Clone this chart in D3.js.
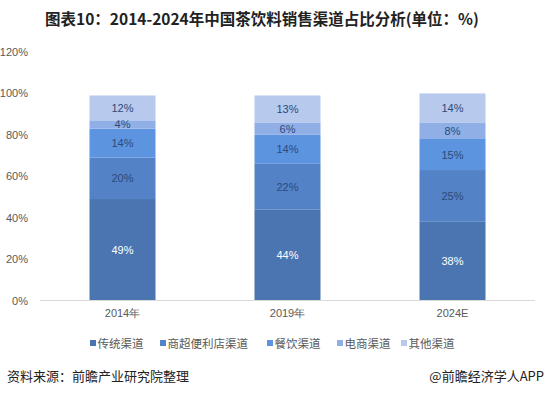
<!DOCTYPE html>
<html><head><meta charset="utf-8">
<script src="https://cdn.jsdelivr.net/npm/d3@7"></script>
<style>body{margin:0;background:#fff;}svg{display:block;font-family:"Noto Sans CJK SC","Liberation Sans",sans-serif;}</style>
</head><body>
<svg id="c" width="546" height="396"></svg>
<script>
const categories = ["2014年", "2019年", "2024E"];
const seriesNames = ["传统渠道", "商超便利店渠道", "餐饮渠道", "电商渠道", "其他渠道"];
const traditional = [49, 44, 38];
const supermarket = [20, 22, 25];
const catering = [14, 14, 15];
const ecommerce = [4, 6, 8];
const others = [12, 13, 14];
const yTicks = [0, 20, 40, 60, 80, 100, 120];
const colors = ["#4a75b1", "#5482c6", "#5c94e0", "#8fafe6", "#b8c9ee"];
const labelColors = ["#ffffff", "#2c4a7a", "#2c4a7a", "#2c4a7a", "#2c4a7a"];

const series = [traditional, supermarket, catering, ecommerce, others];
const svg = d3.select("#c");
const x = d3.scaleBand().domain(categories).range([40, 535]).paddingInner(0.6).paddingOuter(0.3);
const y = d3.scaleLinear().domain([0, 120]).range([300.5, 52]);

// title
svg.append("text").attr("x", 262).attr("y", 25).attr("text-anchor", "middle")
  .attr("font-size", 15.5).attr("font-weight", "bold").attr("fill", "#222")
  .text("图表10：2014-2024年中国茶饮料销售渠道占比分析(单位：%)");

// y axis labels
const yAxis = d3.axisLeft(y).tickValues(yTicks).tickFormat(d => d + "%").tickSize(0).tickPadding(6);
const ga = svg.append("g").attr("transform", "translate(34,0)").call(yAxis);
ga.select(".domain").remove();
ga.selectAll("text").attr("font-size", 11).attr("fill", "#595959").attr("font-family", "Liberation Sans, sans-serif");

// stacks
const table = categories.map((c, i) => {
  const o = {cat: c};
  seriesNames.forEach((s, j) => o[s] = series[j][i]);
  return o;
});
const stack = d3.stack().keys(seriesNames)(table);
stack.forEach((layer, j) => {
  const g = svg.append("g");
  g.selectAll("rect").data(layer).join("rect")
    .attr("x", d => x(d.data.cat)).attr("width", x.bandwidth())
    .attr("y", d => y(d[1])).attr("height", d => y(d[0]) - y(d[1]))
    .attr("fill", colors[j]);
  g.selectAll("text").data(layer).join("text")
    .attr("x", d => x(d.data.cat) + x.bandwidth() / 2)
    .attr("y", d => (y(d[0]) + y(d[1])) / 2 + 4)
    .attr("text-anchor", "middle").attr("font-size", 11)
    .attr("font-family", "Liberation Sans, sans-serif")
    .attr("fill", labelColors[j])
    .text(d => (d[1] - d[0]) + "%");
});

// x axis
const xAxis = d3.axisBottom(x).tickSize(0).tickPadding(9);
const gx = svg.append("g").attr("transform", "translate(0,300.5)").call(xAxis);
gx.select(".domain").attr("stroke", "#d9d9d9").attr("d", "M40,0H535");
gx.selectAll("text").attr("font-size", 11).attr("fill", "#595959");

// legend
const legendX = [90, 160, 267, 337, 401];
const lg = svg.append("g");
seriesNames.forEach((s, j) => {
  lg.append("rect").attr("x", legendX[j]).attr("y", 340).attr("width", 6).attr("height", 6).attr("fill", colors[j]);
  lg.append("text").attr("x", legendX[j] + 7.5).attr("y", 347.5).attr("font-size", 11.5).attr("fill", "#595959").text(s);
});

// footer
svg.append("text").attr("x", 7).attr("y", 381).attr("font-size", 13).attr("fill", "#222").text("资料来源：前瞻产业研究院整理");
svg.append("text").attr("x", 544).attr("y", 381).attr("text-anchor", "end").attr("font-size", 13).attr("fill", "#222").text("@前瞻经济学人APP");
</script>
</body></html>
